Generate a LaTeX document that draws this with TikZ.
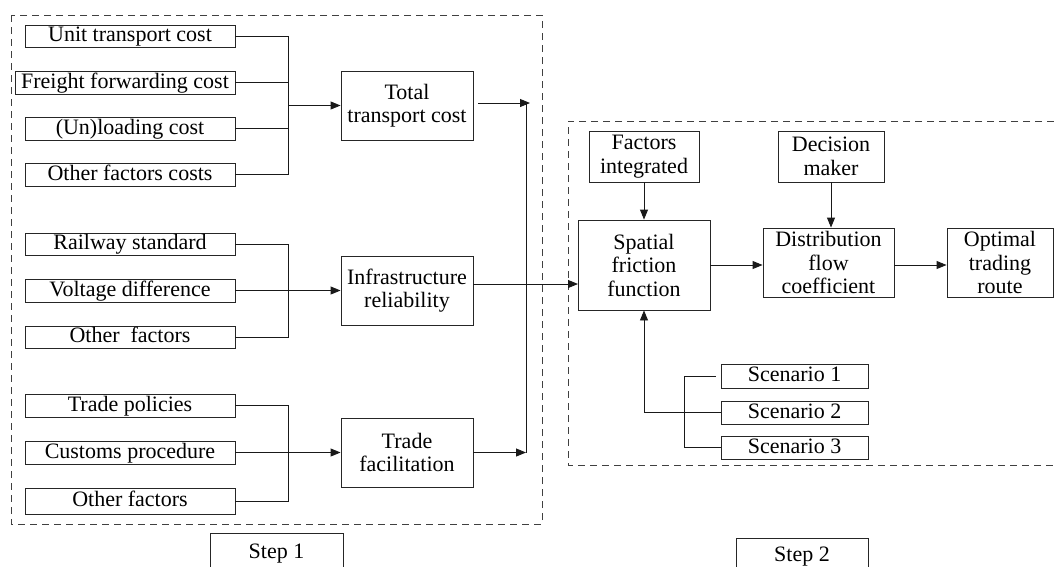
\documentclass[tikz,border=0pt]{standalone}
\usepackage{fontspec}
\setmainfont{Liberation Serif}
\usetikzlibrary{arrows.meta}
\tikzset{
  box/.style={draw=black!85, line width=0.9pt, inner sep=0pt, align=center,
    font=\fontsize{22}{23.5}\selectfont},
  one/.style={box, text height=14pt, text depth=3pt},
  conn/.style={draw=black!90, line width=0.9pt},
  arr/.style={conn, -{Triangle[length=10pt,width=8pt]}},
  frame/.style={draw=black!75, line width=0.9pt, dash pattern=on 7pt off 5pt},
}
\begin{document}
\begin{tikzpicture}[x=1pt,y=-1pt]
\useasboundingbox (0,0) rectangle (1054,566);

% frames
\draw[frame] (11,15) rectangle (542,524);
\draw[frame] (1054,121) -- (568,121) -- (568,465) -- (1054,465);

% left column
\node[one, minimum width=210, minimum height=22] (u1) at (130,36) {Unit transport cost};
\node[one, minimum width=220, minimum height=23] (u2) at (125,82.5) {Freight forwarding cost};
\node[one, minimum width=210, minimum height=23] (u3) at (130,128.5) {(Un)loading cost};
\node[one, minimum width=210, minimum height=23] (u4) at (130,174.5) {Other factors costs};

\node[one, minimum width=210, minimum height=22] (r1) at (130,244) {Railway standard};
\node[one, minimum width=210, minimum height=23] (r2) at (130,290.5) {Voltage difference};
\node[one, minimum width=210, minimum height=22] (r3) at (130,337) {Other~ factors};

\node[one, minimum width=210, minimum height=23] (t1) at (130,405.5) {Trade policies};
\node[one, minimum width=210, minimum height=23] (t2) at (130,452.5) {Customs procedure};
\node[one, minimum width=210, minimum height=26] (t3) at (130,501) {Other factors};

% middle column
\node[box, minimum width=132, minimum height=69] (T) at (407,105.5) {Total\\transport cost};
\node[box, minimum width=132, minimum height=69] (I) at (407,290.5) {Infrastructure\\reliability};
\node[box, minimum width=132, minimum height=69] (F) at (407,452.5) {Trade\\facilitation};

% right part
\node[box, minimum width=110, minimum height=51] (FI) at (644,156.5) {Factors\\integrated};
\node[box, minimum width=106, minimum height=51] (DM) at (831,156.5) {Decision\\maker};
\node[box, minimum width=132, minimum height=90] (S) at (644,265) {Spatial\\friction\\function};
\node[box, minimum width=131, minimum height=69] (D) at (828.5,262.5) {Distribution\\flow\\coefficient};
\node[box, minimum width=106, minimum height=69] (O) at (1000,262.5) {Optimal\\trading\\route};

\node[one, minimum width=147, minimum height=24] (s1) at (794.5,376) {Scenario 1};
\node[one, minimum width=147, minimum height=23] (s2) at (794.5,412.5) {Scenario 2};
\node[one, minimum width=147, minimum height=23] (s3) at (794.5,447.5) {Scenario 3};

% step labels
\node[one, minimum width=133, minimum height=40] (step1) at (276.5,553) {Step 1};
\node[one, minimum width=132, minimum height=36] (step2) at (802,556) {Step 2};

% bracket coordinates
\coordinate (bx) at (288,0);
\coordinate (mx) at (526,0);
\coordinate (sx) at (684,0);
\coordinate (sin) at (578,284);
\coordinate (tout) at (530,103);
\coordinate (s2turn) at (644,412.5);

% cost group
\draw[conn] (u1.east) -- (u1.east -| bx) -- (u4.east -| bx) -- (u4.east);
\draw[conn] (u2.east) -- (u2.east -| bx);
\draw[conn] (u3.east) -- (u3.east -| bx);
\draw[arr] (T.west -| bx) -- (T.west);

% infrastructure group
\draw[conn] (r1.east) -- (r1.east -| bx) -- (r3.east -| bx) -- (r3.east);
\draw[arr] (r2.east) -- (I.west);

% trade group
\draw[conn] (t1.east) -- (t1.east -| bx) -- (t3.east -| bx) -- (t3.east);
\draw[arr] (t2.east) -- (F.west);

% merge line
\draw[arr, shorten <=5pt] (T.east |- tout) -- (tout);
\draw[conn] (tout -| mx) -- (F.east -| mx);
\draw[arr] (F.east) -- (F.east -| mx);
\draw[arr] (I.east |- sin) -- (sin);

% step 2 flow
\draw[arr] (FI.south) -- (S.north);
\draw[arr] (DM.south) -- (DM.south |- D.north);
\draw[arr] (S.east) -- (S.east -| D.west);
\draw[arr] (D.east |- S.east) -- (O.west |- S.east);

% scenarios
\draw[conn, shorten >=5pt] (s1.west -| sx) -- (s1.west);
\draw[conn] (s1.west -| sx) -- (s3.west -| sx) -- (s3.west);
\draw[arr] (s2.west) -- (s2turn) -- (S.south);
\end{tikzpicture}
\end{document}
